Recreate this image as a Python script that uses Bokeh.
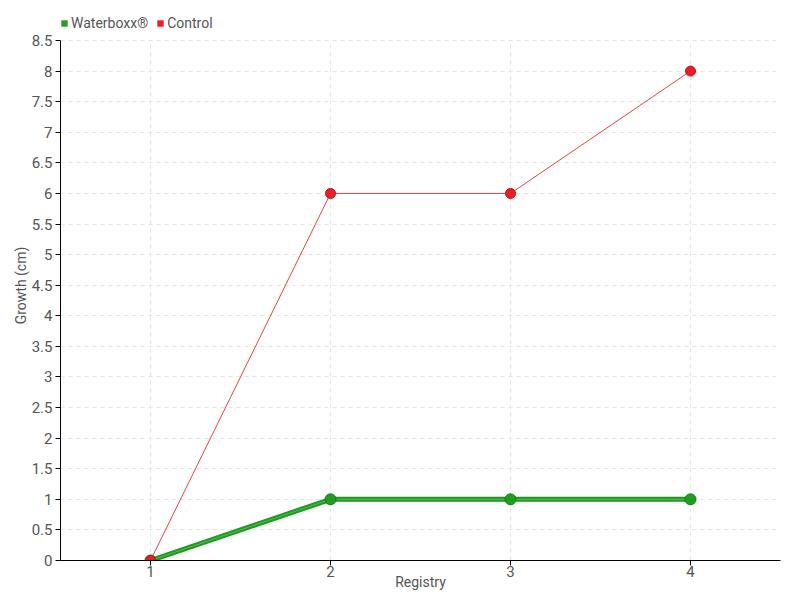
from bokeh.plotting import figure
from bokeh.models import FixedTicker, Range1d, Legend, LegendItem
from bokeh.embed import file_html
from bokeh.resources import INLINE

registry = [1, 2, 3, 4]
waterboxx = [0, 1, 1, 1]
control = [0, 6, 6, 8]
y_ticks = [0, 0.5, 1, 1.5, 2, 2.5, 3, 3.5, 4, 4.5, 5, 5.5, 6, 6.5, 7, 7.5, 8, 8.5]
x_labels = ["1", "2", "3", "4"]
y_min, y_max = 0, 8.5

FONT = "Roboto"
GRAY = "#555555"
GREEN = "#1e9b1e"
RED = "#ee1c25"

# frame spans 10..560 px; the axis itself spans 40..560 (0..8.5)
TOP_EXTRA = y_max * 550 / 520

p = figure(width=800, height=600, output_backend="svg", toolbar_location=None,
           x_range=Range1d(0.5, 4.5), y_range=Range1d(y_min, TOP_EXTRA),
           min_border_left=60, min_border_right=20, min_border_top=10, min_border_bottom=40)
p.outline_line_color = None

for ax in (p.xaxis[0], p.yaxis[0]):
    ax.axis_line_color = "black"
    ax.major_tick_line_color = "black"
    ax.major_tick_out = 5
    ax.major_tick_in = 0
    ax.minor_tick_line_color = None
    ax.major_label_text_color = GRAY
    ax.major_label_text_font = FONT
    ax.major_label_text_font_size = "15px"
    ax.axis_label_text_color = GRAY
    ax.axis_label_text_font = FONT
    ax.axis_label_text_font_size = "14px"
    ax.axis_label_text_font_style = "normal"

p.xaxis.ticker = FixedTicker(ticks=registry)
p.xaxis.major_label_overrides = {t: s for t, s in zip(registry, x_labels)}
p.xaxis.axis_label = "Registry"
p.xaxis.axis_label_standoff = -6
p.xaxis.major_label_standoff = 0

p.yaxis.ticker = FixedTicker(ticks=y_ticks)
p.yaxis.bounds = (y_min, y_max)
p.yaxis.major_label_overrides = {t: ("%g" % t) for t in y_ticks}
p.yaxis.axis_label = "Growth (cm)"
p.yaxis.axis_label_standoff = 0
p.yaxis.major_label_standoff = 3

GRID = "#e5e5e5"
p.ygrid.grid_line_color = GRID
p.ygrid.grid_line_dash = "4 4"
p.ygrid.ticker = FixedTicker(ticks=[t for t in y_ticks if t > 0])
p.xgrid.visible = False
# vertical grid lines only within the axis extent
p.segment(x0=registry, y0=[y_min] * len(registry), x1=registry, y1=[y_max] * len(registry),
          line_color=GRID, line_dash="4 4", line_width=1)

# Waterboxx (thick green)
p.line(registry, waterboxx, line_color=GREEN, line_width=5)
p.line(registry, waterboxx, line_color="#7fd07f", line_width=1, line_alpha=0.6)
p.scatter(registry, waterboxx, size=11, fill_color="#1f9f1f", line_color="#177a17", line_width=1)

# Control (thin red)
p.line(registry, control, line_color=RED, line_width=1, line_alpha=0.85)
p.scatter(registry, control, size=10, fill_color=RED, line_color="#c0101a", line_width=1)

# Legend-only swatches (not drawn in the plot)
nan = float("nan")
sw_w = p.quad(left=[nan], right=[nan], bottom=[nan], top=[nan], fill_color="#22a022", line_color=None)
sw_c = p.quad(left=[nan], right=[nan], bottom=[nan], top=[nan], fill_color=RED, line_color=None)

legend = Legend(items=[LegendItem(label="Waterboxx®", renderers=[sw_w]),
                       LegendItem(label="Control", renderers=[sw_c])],
                orientation="horizontal", location=(0, 529),
                label_text_font=FONT, label_text_font_size="14px", label_text_color=GRAY,
                glyph_width=8, glyph_height=8, label_height=8, label_standoff=3, spacing=8,
                padding=0, margin=0, border_line_color=None, background_fill_alpha=0)
p.add_layout(legend, "center")

open("out.html", "w").write(file_html(p, INLINE))
